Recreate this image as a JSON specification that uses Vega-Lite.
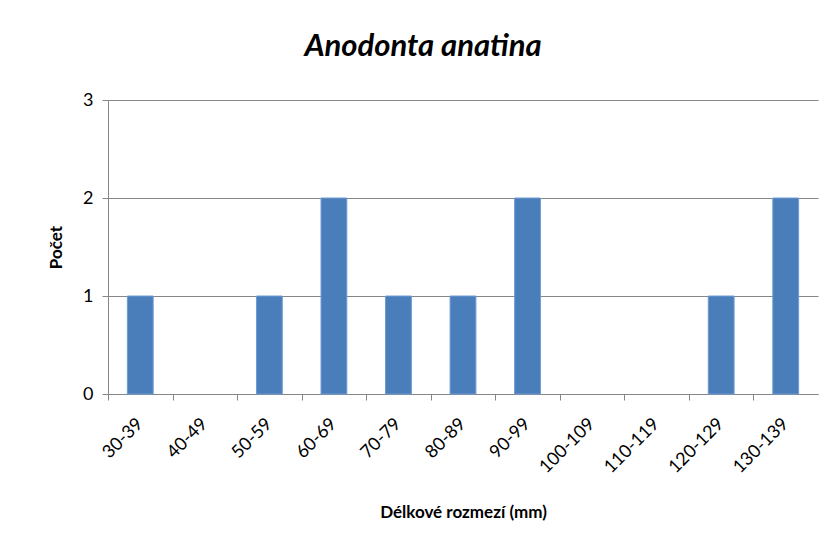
{
  "$schema": "https://vega.github.io/schema/vega-lite/v6.json",
  "width": 710,
  "height": 294,
  "autosize": {"type": "none"},
  "padding": {"left": 108, "top": 100, "right": 12, "bottom": 146},
  "background": "white",
  "title": {
    "text": "Anodonta anatina",
    "font": "Lato",
    "fontSize": 31,
    "fontWeight": "bold",
    "fontStyle": "italic",
    "color": "#000000",
    "anchor": "middle",
    "baseline": "alphabetic",
    "offset": 37,
    "dx": -40,
    "dy": 33
  },
  "data": {
    "values": [
      {"rozmezi": "30-39", "pocet": 1},
      {"rozmezi": "40-49", "pocet": 0},
      {"rozmezi": "50-59", "pocet": 1},
      {"rozmezi": "60-69", "pocet": 2},
      {"rozmezi": "70-79", "pocet": 1},
      {"rozmezi": "80-89", "pocet": 1},
      {"rozmezi": "90-99", "pocet": 2},
      {"rozmezi": "100-109", "pocet": 0},
      {"rozmezi": "110-119", "pocet": 0},
      {"rozmezi": "120-129", "pocet": 1},
      {"rozmezi": "130-139", "pocet": 2}
    ]
  },
  "layer": [
    {
      "mark": {"type": "bar", "opacity": 0},
      "encoding": {
        "x": {
          "field": "rozmezi", "type": "nominal", "sort": null,
          "scale": {"paddingInner": 0.6, "paddingOuter": 0.3},
          "axis": {
            "orient": "bottom", "labels": false, "title": null, "grid": false,
            "domain": false, "ticks": true, "tickSize": 6, "tickColor": "#868686",
            "tickOffset": -32.27, "tickWidth": 1
          }
        },
        "y": {
          "field": "pocet", "type": "quantitative",
          "scale": {"domain": [0, 3]},
          "axis": {
            "values": [0, 1, 2, 3], "format": "d",
            "grid": true, "gridColor": "#868686", "gridWidth": 1,
            "domain": true, "domainColor": "#868686",
            "tickSize": 6, "tickColor": "#868686",
            "labelFont": "Lato", "labelFontSize": 18, "labelColor": "#000000", "labelPadding": 9,
            "title": "Počet",
            "titleFont": "Lato", "titleFontSize": 17, "titleFontWeight": "bold", "titleColor": "#000000",
            "titleX": -52, "titleY": 147, "titleAngle": -90, "titleAlign": "center", "titleBaseline": "middle"
          }
        }
      }
    },
    {
      "transform": [{"filter": "datum.pocet > 0"}],
      "mark": {"type": "bar", "color": "#4A7EBB", "stroke": "#6E9BD3", "strokeWidth": 1},
      "encoding": {
        "x": {
          "field": "rozmezi", "type": "nominal", "sort": null,
          "scale": {"paddingInner": 0.6, "paddingOuter": 0.3},
          "axis": {
            "orient": "bottom", "ticks": false, "grid": false,
            "domain": true, "domainColor": "#868686",
            "labelAngle": -45, "labelAlign": "right", "labelBaseline": "middle",
            "labelFont": "Lato", "labelFontSize": 18, "labelColor": "#000000", "labelPadding": 27,
            "title": "Délkové rozmezí (mm)",
            "titleFont": "Lato", "titleFontSize": 17, "titleFontWeight": "bold", "titleColor": "#000000",
            "titleY": 123, "titleBaseline": "alphabetic"
          }
        },
        "y": {
          "field": "pocet", "type": "quantitative",
          "scale": {"domain": [0, 3]}
        }
      }
    }
  ],
  "resolve": {"axis": {"x": "independent"}},
  "config": {"view": {"stroke": null}}
}
